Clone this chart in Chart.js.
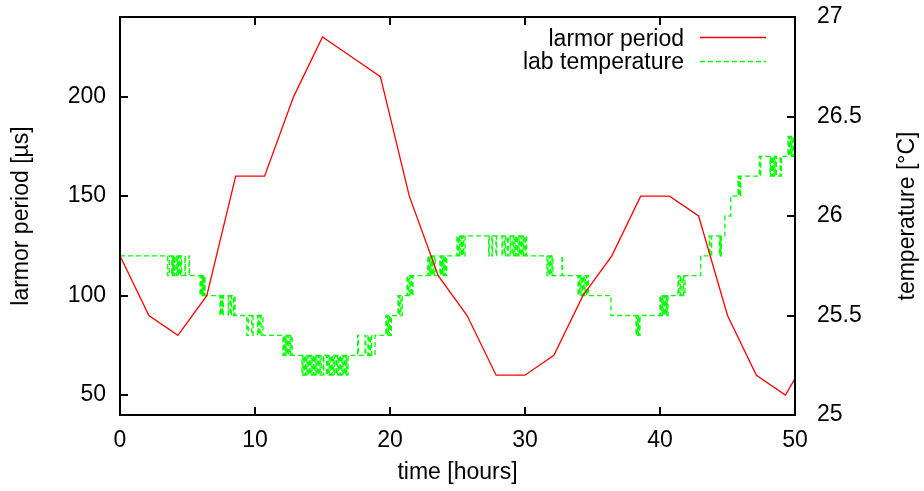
<!DOCTYPE html>
<html><head><meta charset="utf-8">
<script src="https://cdn.jsdelivr.net/npm/chart.js@4.4.0/dist/chart.umd.min.js"></script>
<style>html,body{margin:0;padding:0;background:#fff;}#wrap{width:924px;height:491px;}</style>
</head><body><div id="wrap"><canvas id="c" width="924" height="491"></canvas></div>
<script>
// ---- data ----
const seriesNames = ['larmor period', 'lab temperature'];
const periodHours = [0, 2.14, 4.29, 6.43, 8.57, 10.71, 12.86, 15, 17.14, 19.29, 21.43, 23.57, 25.71, 27.86, 30, 32.14, 34.29, 36.43, 38.57, 40.71, 42.86, 45, 47.14, 49.29, 51.43];
const periodValues = [120, 90, 80, 100, 160, 160, 200, 230, 220, 210, 150, 110, 90, 60, 60, 70, 100, 120, 150, 150, 140, 90, 60, 50, 75];
// [hour, °C] : temperature reading that starts at that hour (step plot)
const temperatureReadings = [
[0,25.8],
[3.53,25.7],[3.65,25.8],[3.83,25.7],[3.88,25.8],[3.93,25.7],[3.98,25.8],[4.03,25.7],[4.08,25.8],[4.2,25.7],[4.25,25.8],[4.32,25.7],[4.37,25.8],[4.44,25.7],[4.5,25.8],[4.57,25.7],[4.81,25.8],[4.84,25.7],[5.11,25.8],[5.14,25.7],
[5.93,25.6],[5.98,25.7],[6.03,25.6],[6.08,25.7],[6.13,25.6],[6.18,25.7],[6.23,25.6],[6.27,25.7],[6.3,25.6],
[7.41,25.5],[7.46,25.6],[7.5,25.5],[7.55,25.6],[7.6,25.5],[7.65,25.6],[8.02,25.5],[8.07,25.6],[8.2,25.5],[8.25,25.6],[8.4,25.5],[8.45,25.6],[8.52,25.5],
[9.4,25.4],[9.5,25.5],[9.75,25.4],[9.85,25.5],[10.2,25.4],[10.25,25.5],[10.35,25.4],[10.45,25.5],[10.59,25.4],
[12.07,25.3],[12.12,25.4],[12.18,25.3],[12.24,25.4],[12.3,25.3],[12.36,25.4],[12.45,25.3],[12.5,25.4],[12.6,25.3],[12.65,25.4],[12.75,25.3],
[13.48,25.2],[13.55,25.3],[13.62,25.2],[13.7,25.3],[13.78,25.2],[13.85,25.3],[13.92,25.2],[14.0,25.3],[14.08,25.2],[14.15,25.3],[14.22,25.2],[14.3,25.3],[14.38,25.2],[14.45,25.3],[14.52,25.2],[14.6,25.3],[14.68,25.2],[14.75,25.3],[14.82,25.2],[14.9,25.3],[15.05,25.2],[15.1,25.3],[15.3,25.2],[15.35,25.3],[15.42,25.2],[15.5,25.3],[15.58,25.2],[15.65,25.3],[15.72,25.2],[15.8,25.3],[15.88,25.2],[15.93,25.3],[16.05,25.2],[16.12,25.3],[16.2,25.2],[16.28,25.3],[16.36,25.2],[16.44,25.3],[16.52,25.2],[16.6,25.3],[16.68,25.2],[16.75,25.3],[16.8,25.2],[16.89,25.3],
[17.6,25.4],[17.65,25.3],[18.15,25.4],[18.2,25.3],[18.37,25.4],[18.45,25.3],[18.55,25.4],[18.64,25.3],[18.89,25.4],
[19.7,25.5],[19.76,25.4],[19.82,25.5],[19.88,25.4],[19.95,25.5],[20.02,25.4],[20.1,25.5],
[20.59,25.6],[20.65,25.5],[20.72,25.6],[20.8,25.5],[20.9,25.6],
[21.26,25.7],[21.32,25.6],[21.4,25.7],[21.48,25.6],[21.56,25.7],[21.62,25.6],[21.7,25.7],
[22.8,25.8],[22.86,25.7],[22.92,25.8],[22.98,25.7],[23.04,25.8],[23.1,25.7],[23.16,25.8],[23.22,25.7],[23.3,25.8],[23.35,25.7],[23.7,25.8],[23.76,25.7],[23.82,25.8],[23.88,25.7],[23.94,25.8],[24.0,25.7],[24.06,25.8],[24.12,25.7],[24.2,25.8],
[24.96,25.9],[25.02,25.8],[25.1,25.9],[25.16,25.8],[25.25,25.9],[25.3,25.8],[25.4,25.9],[25.45,25.8],[25.56,25.9],
[27.3,25.8],[27.35,25.9],[27.55,25.8],[27.6,25.9],[27.85,25.8],[27.9,25.9],[28.3,25.8],[28.36,25.9],[28.5,25.8],[28.56,25.9],[28.7,25.8],[28.76,25.9],[28.9,25.8],[28.96,25.9],[29.1,25.8],[29.16,25.9],[29.25,25.8],[29.3,25.9],[29.4,25.8],[29.46,25.9],[29.55,25.8],[29.6,25.9],[29.7,25.8],[29.76,25.9],[29.85,25.8],[29.9,25.9],[30.0,25.8],[30.05,25.9],[30.12,25.8],
[31.63,25.7],[31.7,25.8],[31.78,25.7],[31.85,25.8],[31.92,25.7],[32.0,25.8],[32.07,25.7],[32.74,25.8],[32.78,25.7],
[33.93,25.6],[34.0,25.7],[34.07,25.6],[34.14,25.7],[34.22,25.6],[34.3,25.7],[34.38,25.6],[34.45,25.7],[34.55,25.6],[34.6,25.7],[34.7,25.6],
[36.37,25.5],
[38.22,25.4],[38.28,25.5],[38.34,25.4],[38.4,25.5],[38.46,25.4],[38.52,25.5],
[40.0,25.6],[40.06,25.5],[40.12,25.6],[40.18,25.5],[40.24,25.6],[40.3,25.5],[40.36,25.6],[40.42,25.5],[40.48,25.6],[40.53,25.5],[40.59,25.6],
[41.33,25.7],[41.4,25.6],[41.5,25.7],[41.56,25.6],[41.7,25.7],[41.75,25.6],[41.85,25.7],
[43.01,25.8],
[43.65,25.9],[43.7,25.8],[43.83,25.9],[44.4,25.8],[44.45,25.9],[44.5,25.8],[44.55,25.9],
[44.81,26.0],
[45.24,26.1],
[45.78,26.2],[45.83,26.1],[45.88,26.2],[45.93,26.1],[45.98,26.2],
[47.36,26.3],[47.4,26.2],[47.47,26.3],[48.15,26.2],[48.2,26.3],[48.26,26.2],[48.32,26.3],[48.38,26.2],[48.44,26.3],[48.5,26.2],[48.56,26.3],[48.62,26.2],[48.9,26.3],[48.95,26.2],[49.0,26.3],
[49.48,26.4],[49.53,26.3],[49.6,26.4],[49.66,26.3],[49.72,26.4],[49.78,26.3],[49.85,26.4],[49.9,26.3],[49.95,26.4],
[50,26.4]
];
const xTicks = [0, 10, 20, 30, 40, 50];
const periodTicks = [50, 100, 150, 200];
const tempTicks = [25, 25.5, 26, 26.5, 27];
const axisTitles = { x: 'time [hours]', y: 'larmor period [µs]', y2: 'temperature [°C]' };

// ---- style ----
const FONT = "'Liberation Sans', Arial, Helvetica, sans-serif";
const FSIZE = 23;
const RED = '#ff0000', GREEN = '#00ff00';
const LW = 1.3;

const framePlugin = {
  id: 'frame',
  afterDatasetsDraw(chart) {
    const { ctx, chartArea: a, scales } = chart;
    ctx.save();
    ctx.strokeStyle = '#000';
    ctx.lineWidth = 2;
    ctx.setLineDash([]);
    ctx.strokeRect(a.left, a.top, a.right - a.left, a.bottom - a.top);
    const L = 8;
    ctx.beginPath();
    xTicks.slice(1, -1).forEach(v => {
      const px = Math.round(scales.x.getPixelForValue(v));
      ctx.moveTo(px, a.bottom); ctx.lineTo(px, a.bottom - L);
      ctx.moveTo(px, a.top); ctx.lineTo(px, a.top + L);
    });
    periodTicks.forEach(v => {
      const py = Math.round(scales.y.getPixelForValue(v));
      ctx.moveTo(a.left, py); ctx.lineTo(a.left + L, py);
    });
    tempTicks.slice(1, -1).forEach(v => {
      const py = Math.round(scales.y2.getPixelForValue(v));
      ctx.moveTo(a.right, py); ctx.lineTo(a.right - L, py);
    });
    ctx.stroke();

    // legend (top right, inside)
    ctx.font = FSIZE + 'px ' + FONT;
    ctx.fillStyle = '#000';
    ctx.textAlign = 'right';
    ctx.textBaseline = 'alphabetic';
    const tx = a.right - 111, sx0 = a.right - 95, sx1 = a.right - 29;
    const rows = [
      { y: a.top + 20.5, base: a.top + 29, color: RED, dash: [] },
      { y: a.top + 44.5, base: a.top + 51.5, color: GREEN, dash: [5, 3] }
    ];
    rows.forEach((r, i) => {
      ctx.fillText(seriesNames[i], tx, r.base);
      ctx.beginPath();
      ctx.strokeStyle = r.color;
      ctx.lineWidth = LW;
      ctx.setLineDash(r.dash);
      ctx.moveTo(sx0, r.y); ctx.lineTo(sx1, r.y);
      ctx.stroke();
    });
    ctx.setLineDash([]);

    // right axis title (reads bottom-to-top)
    ctx.save();
    ctx.translate(908, (a.top + a.bottom) / 2);
    ctx.rotate(-Math.PI / 2);
    ctx.textAlign = 'center';
    ctx.textBaseline = 'middle';
    ctx.fillStyle = '#000';
    ctx.fillText(axisTitles.y2, 0, 0);
    ctx.restore();
    ctx.restore();
  }
};

const tickFont = { family: FONT, size: FSIZE };
const noVPad = s => { s.paddingTop = 0; s.paddingBottom = 0; };
new Chart(document.getElementById('c').getContext('2d'), {
  type: 'line',
  data: {
    datasets: [
      {
        label: seriesNames[0],
        data: periodHours.map((h, i) => ({ x: h, y: periodValues[i] })),
        borderColor: RED, borderWidth: LW, pointRadius: 0, tension: 0, yAxisID: 'y'
      },
      {
        label: seriesNames[1],
        data: temperatureReadings.map(p => ({ x: p[0], y: p[1] })),
        borderColor: GREEN, borderWidth: LW, borderDash: [5, 3], pointRadius: 0,
        stepped: true, yAxisID: 'y2'
      }
    ]
  },
  options: {
    responsive: false, animation: false, devicePixelRatio: 1,
    layout: { padding: { top: 17, left: 0, right: 0, bottom: 0 } },
    plugins: { legend: { display: false }, tooltip: { enabled: false } },
    scales: {
      x: {
        type: 'linear', position: 'bottom', min: 0, max: 50,
        afterBuildTicks: s => { s.ticks = xTicks.map(v => ({ value: v })); },
        afterFit: s => { s.height = 76; s.paddingLeft = 0; s.paddingRight = 0; },
        grid: { display: false, drawTicks: false }, border: { display: false },
        ticks: { padding: 12, color: '#000', font: tickFont, maxRotation: 0, autoSkip: false },
        title: { display: true, text: axisTitles.x, color: '#000', font: { family: FONT, size: FSIZE, lineHeight: 1 }, padding: { top: 0, bottom: 7 } }
      },
      y: {
        type: 'linear', position: 'left', min: 40, max: 240,
        afterBuildTicks: s => { s.ticks = periodTicks.map(v => ({ value: v })); },
        afterFit: s => { s.width = 120; noVPad(s); },
        grid: { display: false, drawTicks: false }, border: { display: false },
        ticks: { padding: 14, color: '#000', font: tickFont, autoSkip: false },
        title: { display: true, text: axisTitles.y, color: '#000', font: { family: FONT, size: FSIZE, lineHeight: 1 }, padding: { top: 10, bottom: 0 } }
      },
      y2: {
        type: 'linear', position: 'right', min: 25, max: 27,
        afterBuildTicks: s => { s.ticks = tempTicks.map(v => ({ value: v })); },
        afterFit: s => { s.width = 129; noVPad(s); },
        grid: { display: false, drawTicks: false }, border: { display: false },
        ticks: { padding: 22, color: '#000', font: tickFont, autoSkip: false, callback: v => String(v) }
      }
    }
  },
  plugins: [framePlugin]
});
</script>
</body></html>
